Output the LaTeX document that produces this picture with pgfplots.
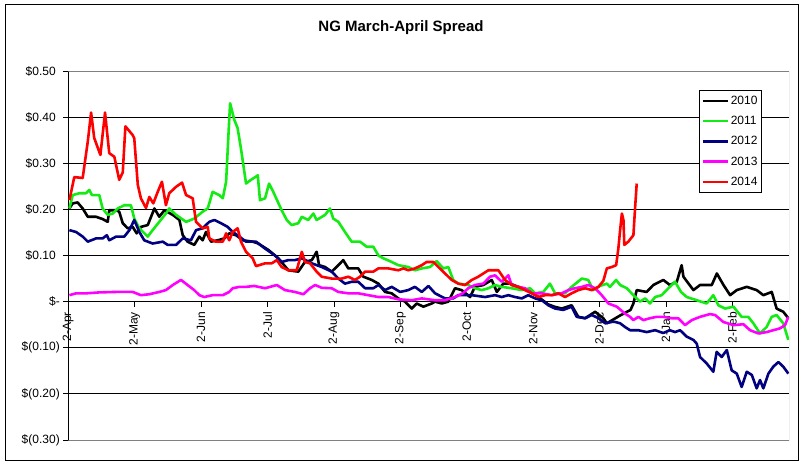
\documentclass[border=0pt]{standalone}
\usepackage{pgfplots}
\pgfplotsset{compat=1.18}
\usepackage{fontspec}
\setmainfont{Liberation Sans}
\definecolor{cBlack}{RGB}{0,0,0}
\definecolor{cGreen}{RGB}{20,235,20}
\definecolor{cNavy}{RGB}{0,0,128}
\definecolor{cMag}{RGB}{255,0,255}
\definecolor{cRed}{RGB}{255,0,0}
\begin{document}
\begin{tikzpicture}
\useasboundingbox (0,0) rectangle (805pt,466pt);
\fill[white] (0,0) rectangle (805pt,466pt);
\draw[black, line width=1pt] (5.5pt,6pt) rectangle (798pt,461pt);
\node[font=\bfseries\fontsize{15}{18}\selectfont] at (401pt,438.5pt) {NG March-April Spread};
\begin{axis}[
  scale only axis,
  width=720.7pt, height=369pt,
  at={(68.3pt,26pt)}, anchor=south west,
  xmin=0, xmax=325.6, ymin=-0.3, ymax=0.5,
  axis x line*=middle, axis y line*=left,
  hide obscured x ticks=false, hide obscured y ticks=false,
  axis line style={black, line width=0.8pt},
  tick style={black, line width=0.8pt},
  tick align=outside, major tick length=5pt,
  xtick={0,30,60,90,120,150,180,210,240,270,300},
  xticklabels={2-Apr,2-May,2-Jun,2-Jul,2-Aug,2-Sep,2-Oct,2-Nov,2-Dec,2-Jan,2-Feb},
  xticklabel style={rotate=90, anchor=east, font=\fontsize{12}{14}\selectfont, xshift=-2pt},
  ytick={-0.3,-0.2,-0.1,0,0.1,0.2,0.3,0.4,0.5},
  yticklabels={\$(0.30),\$(0.20),\$(0.10),\$-\hspace{19pt},\$0.10\hphantom{)},\$0.20\hphantom{)},\$0.30\hphantom{)},\$0.40\hphantom{)},\$0.50\hphantom{)}},
  yticklabel style={font=\fontsize{12}{14}\selectfont},
  /pgf/number format/assume math mode=true,
  ymajorgrids, grid style={black, line width=0.8pt},
  every axis plot/.append style={line width=2.6pt, line join=round, no markers},
  legend image code/.code={\draw[#1] (0pt,0pt) -- (25pt,0pt);},
  legend cell align=left,
  legend style={at={(0.8755,0.9485)}, anchor=north west, draw=black, line width=0.8pt, fill=white,
    font=\fontsize{12}{14}\selectfont, inner xsep=2pt, inner ysep=4pt, row sep=7.4pt,
    nodes={inner sep=1.5pt}},
]
\addplot[cBlack] coordinates {(0.5,0.202)(2.0,0.213)(4.2,0.215)(6.5,0.202)(8.8,0.184)(12.5,0.184)(15.5,0.179)(17.8,0.173)(18.5,0.198)(21.6,0.198)(23.0,0.195)(24.6,0.170)(26.8,0.159)(29.1,0.162)(30.9,0.148)(32.8,0.162)(35.9,0.166)(38.9,0.202)(41.1,0.184)(43.4,0.198)(47.2,0.188)(50.2,0.177)(51.7,0.144)(53.9,0.130)(56.9,0.123)(59.2,0.141)(60.7,0.133)(62.2,0.151)(64.5,0.130)(67.5,0.133)(70.5,0.137)(72.7,0.148)(75.8,0.144)(78.8,0.133)(83.3,0.130)(85.8,0.126)(90.4,0.112)(94.9,0.094)(99.4,0.068)(103.9,0.065)(106.9,0.086)(110.0,0.090)(112.2,0.108)(113.3,0.079)(116.0,0.075)(119.0,0.065)(122.0,0.079)(124.2,0.090)(126.5,0.072)(131.0,0.072)(133.3,0.054)(137.1,0.047)(140.1,0.039)(143.1,0.021)(146.1,0.018)(149.1,0.007)(152.1,0.000)(155.2,-0.015)(157.4,-0.004)(160.4,-0.011)(164.2,-0.004)(165.7,0.000)(168.7,-0.004)(171.7,0.000)(174.7,0.029)(177.7,0.025)(181.5,0.010)(183.7,0.032)(187.5,0.036)(191.3,0.047)(193.6,0.021)(196.5,0.039)(199.6,0.039)(203.3,0.032)(207.8,0.025)(212.4,0.010)(216.8,-0.006)(219.6,-0.011)(222.9,-0.015)(227.4,-0.008)(230.4,-0.033)(233.5,-0.036)(238.0,-0.022)(241.7,-0.036)(243.3,-0.047)(249.3,-0.030)(254.0,-0.018)(255.3,-0.004)(256.8,0.025)(261.3,0.021)(264.3,0.036)(268.8,0.047)(271.8,0.036)(274.9,0.043)(277.1,0.079)(277.9,0.054)(282.4,0.025)(285.4,0.036)(290.7,0.036)(293.0,0.061)(296.0,0.036)(299.0,0.014)(302.0,0.025)(306.5,0.032)(311.0,0.025)(314.0,0.014)(317.8,0.021)(320.0,-0.015)(323.0,-0.022)(325.3,-0.036)};
\addlegendentry{2010}
\addplot[cGreen] coordinates {(0.5,0.202)(2.0,0.231)(5.0,0.235)(8.0,0.235)(9.5,0.242)(10.7,0.231)(14.0,0.231)(15.5,0.202)(17.8,0.188)(20.1,0.191)(22.3,0.202)(25.3,0.209)(28.3,0.209)(29.8,0.180)(32.1,0.159)(35.9,0.141)(38.1,0.155)(41.1,0.173)(44.1,0.191)(45.6,0.202)(48.7,0.188)(53.2,0.173)(56.9,0.180)(60.7,0.195)(63.0,0.202)(65.2,0.238)(68.2,0.231)(69.8,0.224)(71.3,0.260)(72.5,0.376)(73.1,0.430)(75.0,0.394)(76.5,0.376)(78.0,0.332)(80.3,0.256)(82.5,0.264)(84.8,0.271)(85.6,0.274)(86.6,0.220)(88.9,0.224)(90.7,0.256)(92.6,0.238)(96.4,0.198)(98.7,0.177)(100.9,0.166)(103.9,0.170)(105.5,0.184)(108.4,0.177)(110.7,0.191)(112.2,0.177)(116.0,0.188)(118.2,0.202)(119.7,0.180)(122.0,0.173)(125.0,0.151)(128.0,0.130)(131.8,0.130)(134.8,0.119)(137.8,0.119)(140.1,0.100)(142.3,0.094)(146.1,0.086)(149.1,0.079)(153.6,0.075)(156.6,0.068)(159.7,0.072)(163.4,0.075)(166.4,0.088)(169.4,0.072)(171.7,0.075)(173.9,0.047)(176.2,0.039)(180.7,0.036)(183.7,0.029)(186.8,0.025)(189.8,0.029)(192.8,0.036)(195.8,0.032)(200.3,0.029)(204.9,0.025)(208.6,0.029)(210.9,0.018)(214.6,0.021)(217.6,0.039)(219.9,0.018)(224.4,0.018)(227.4,0.032)(232.0,0.050)(234.9,0.047)(237.2,0.025)(240.2,0.034)(243.3,0.039)(244.7,0.032)(247.5,0.047)(249.3,0.036)(252.3,0.029)(255.3,0.014)(258.3,0.000)(260.6,0.007)(262.8,-0.004)(265.1,0.010)(268.1,0.014)(271.1,0.029)(274.1,0.043)(276.8,0.021)(279.4,0.010)(283.9,0.003)(288.4,-0.004)(291.4,0.014)(293.7,-0.008)(296.7,-0.015)(300.5,-0.011)(304.2,-0.033)(307.2,-0.033)(309.5,-0.047)(312.5,-0.069)(315.5,-0.055)(317.8,-0.033)(320.0,-0.029)(323.0,-0.047)(325.3,-0.083)};
\addlegendentry{2011}
\addplot[cNavy] coordinates {(0.5,0.155)(3.5,0.151)(6.5,0.141)(8.8,0.130)(12.5,0.137)(15.5,0.137)(17.4,0.144)(18.5,0.133)(21.6,0.141)(25.3,0.141)(27.6,0.155)(29.8,0.177)(32.1,0.151)(34.3,0.133)(38.1,0.126)(42.7,0.130)(44.9,0.123)(48.7,0.123)(51.7,0.137)(55.4,0.133)(57.7,0.155)(60.7,0.159)(63.7,0.173)(66.0,0.177)(69.0,0.170)(72.0,0.162)(74.3,0.151)(77.3,0.141)(80.3,0.130)(84.8,0.130)(88.9,0.115)(93.4,0.100)(96.4,0.086)(99.4,0.090)(102.4,0.090)(105.5,0.094)(110.0,0.083)(114.5,0.075)(119.0,0.065)(122.0,0.050)(125.0,0.039)(128.0,0.043)(131.0,0.043)(134.1,0.029)(137.8,0.029)(140.1,0.036)(143.1,0.025)(146.1,0.032)(149.9,0.021)(153.6,0.025)(156.6,0.032)(159.7,0.021)(162.7,0.034)(165.7,0.018)(170.2,0.007)(173.9,0.007)(176.2,0.014)(182.3,0.014)(188.3,0.010)(192.8,0.014)(195.8,0.010)(198.8,0.014)(201.8,0.010)(204.9,0.007)(207.8,0.014)(210.9,0.007)(213.9,0.003)(216.9,-0.008)(219.9,-0.015)(223.6,-0.018)(227.4,-0.011)(229.7,-0.033)(233.5,-0.036)(236.5,-0.029)(239.5,-0.036)(242.6,-0.047)(245.6,-0.044)(247.0,-0.044)(249.3,-0.047)(251.5,-0.055)(253.8,-0.062)(257.5,-0.062)(261.3,-0.066)(265.1,-0.062)(268.8,-0.068)(271.8,-0.062)(274.1,-0.066)(276.4,-0.062)(279.4,-0.076)(282.4,-0.083)(283.9,-0.091)(285.4,-0.120)(288.4,-0.134)(291.4,-0.152)(292.9,-0.109)(295.2,-0.120)(297.5,-0.105)(299.7,-0.149)(302.0,-0.156)(304.2,-0.185)(306.5,-0.152)(308.8,-0.159)(311.0,-0.188)(312.5,-0.170)(314.0,-0.188)(316.3,-0.156)(318.5,-0.141)(320.8,-0.131)(323.0,-0.141)(325.3,-0.156)};
\addlegendentry{2012}
\addplot[cMag] coordinates {(0.5,0.014)(3.5,0.018)(8.0,0.018)(14.0,0.020)(21.6,0.021)(29.1,0.021)(32.8,0.014)(36.6,0.016)(41.1,0.021)(44.1,0.025)(47.2,0.036)(50.9,0.047)(53.9,0.036)(56.9,0.025)(59.2,0.014)(61.4,0.010)(65.2,0.014)(69.8,0.014)(72.7,0.021)(74.3,0.029)(77.3,0.032)(80.3,0.032)(84.0,0.034)(88.9,0.029)(94.2,0.036)(97.9,0.025)(102.4,0.021)(106.2,0.016)(109.2,0.029)(111.5,0.036)(114.5,0.030)(119.0,0.029)(122.0,0.021)(126.5,0.018)(131.0,0.018)(135.5,0.014)(140.1,0.010)(144.6,0.010)(149.1,0.005)(155.2,0.003)(159.7,0.007)(165.7,0.003)(170.2,0.003)(174.7,0.010)(178.2,0.018)(180.7,0.029)(183.7,0.036)(187.5,0.039)(190.5,0.054)(192.8,0.057)(195.8,0.043)(198.8,0.057)(200.3,0.036)(203.3,0.032)(206.3,0.029)(209.4,0.018)(213.9,0.018)(218.4,0.014)(222.9,0.018)(225.9,0.025)(228.9,0.029)(232.0,0.032)(234.9,0.036)(238.0,0.029)(241.0,0.014)(244.0,-0.004)(247.8,-0.011)(251.5,-0.026)(253.8,-0.033)(255.3,-0.040)(257.5,-0.033)(259.8,-0.040)(262.8,-0.036)(265.8,-0.033)(268.8,-0.033)(272.6,-0.036)(275.6,-0.036)(278.6,-0.051)(281.7,-0.040)(285.4,-0.033)(289.9,-0.027)(292.2,-0.029)(295.9,-0.044)(300.5,-0.051)(305.0,-0.049)(308.0,-0.062)(311.8,-0.069)(315.5,-0.066)(318.5,-0.062)(321.5,-0.058)(323.8,-0.051)(325.3,-0.033)};
\addlegendentry{2013}
\addplot[cRed] coordinates {(0.5,0.220)(2.7,0.270)(6.5,0.268)(8.8,0.347)(10.3,0.410)(11.7,0.355)(14.5,0.318)(16.6,0.410)(18.5,0.322)(20.8,0.314)(23.0,0.264)(24.6,0.280)(25.8,0.380)(29.1,0.361)(29.8,0.354)(31.4,0.253)(32.8,0.224)(35.1,0.203)(36.6,0.227)(38.4,0.213)(40.4,0.238)(42.3,0.260)(44.1,0.209)(45.6,0.235)(48.7,0.249)(51.4,0.258)(53.2,0.231)(56.2,0.224)(57.7,0.173)(60.7,0.159)(63.0,0.162)(63.7,0.137)(66.7,0.130)(69.8,0.130)(71.3,0.148)(72.7,0.133)(74.3,0.151)(76.5,0.159)(78.0,0.130)(80.3,0.108)(83.3,0.094)(84.8,0.077)(88.9,0.083)(91.9,0.083)(94.2,0.090)(96.4,0.075)(99.4,0.068)(103.2,0.068)(105.5,0.108)(106.9,0.086)(109.2,0.083)(112.2,0.065)(114.5,0.054)(119.0,0.050)(123.5,0.050)(126.5,0.054)(129.5,0.047)(131.8,0.054)(134.1,0.065)(137.8,0.065)(140.1,0.072)(144.6,0.072)(149.1,0.068)(151.4,0.072)(153.6,0.068)(156.6,0.072)(159.7,0.079)(161.9,0.086)(164.9,0.086)(167.2,0.075)(170.2,0.061)(173.2,0.047)(176.2,0.039)(179.2,0.036)(182.3,0.047)(185.2,0.054)(189.8,0.068)(194.3,0.068)(197.3,0.047)(200.3,0.036)(203.3,0.032)(206.3,0.025)(209.4,0.018)(212.4,0.010)(215.4,0.014)(218.4,0.014)(221.4,0.018)(224.4,0.010)(227.4,0.018)(230.4,0.025)(233.5,0.029)(236.5,0.025)(239.5,0.032)(241.7,0.045)(243.3,0.072)(245.5,0.075)(247.5,0.079)(248.5,0.115)(249.3,0.155)(250.1,0.191)(250.8,0.177)(251.2,0.123)(253.0,0.130)(255.3,0.144)(256.1,0.206)(256.8,0.256)};
\addlegendentry{2014}
\draw[gray, line width=1pt] (rel axis cs:0,1) -- (rel axis cs:1,1) -- (rel axis cs:1,0) -- (rel axis cs:0,0);
\end{axis}
\end{tikzpicture}
\end{document}
